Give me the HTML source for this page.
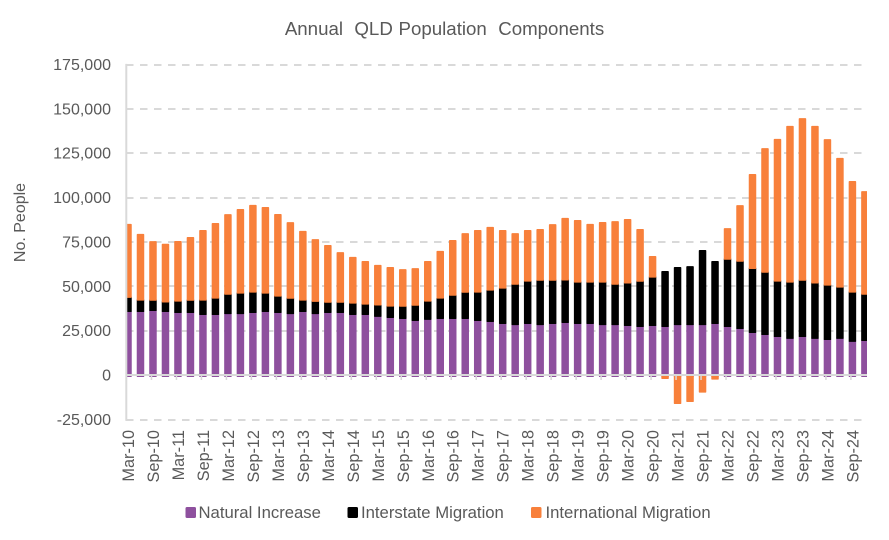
<!DOCTYPE html>
<html lang="en">
<head>
<meta charset="utf-8">
<title>Annual QLD Population Components</title>
<style>
html,body{margin:0;padding:0;background:#fff;}
svg{display:block;}
text{font-family:"Liberation Sans",Arial,sans-serif;fill:#595959;}
</style>
</head>
<body>
<svg id="chart" xmlns="http://www.w3.org/2000/svg" width="889" height="540" viewBox="0 0 889 540">
  <defs>
    <clipPath id="plot-clip"><rect x="127" y="50" width="740" height="390"></rect></clipPath>
  </defs>
  <text x="444.5" y="35" text-anchor="middle" font-size="18.7" word-spacing="0.5">Annual&#160; QLD Population&#160; Components</text>
  <text transform="translate(25,222.5) rotate(-90)" text-anchor="middle" font-size="16">No. People</text>
  <g id="grid"></g>
  <g id="bars" clip-path="url(#plot-clip)"></g>
  <g id="axes"></g>
  <g>
    <g>
      <rect x="185.5" y="507" width="10.5" height="11" rx="1.5" fill="#8E509E"></rect>
      <text x="198.5" y="518" font-size="16.7">Natural Increase</text>
    </g>
    <g>
      <rect x="347.5" y="507" width="10.5" height="11" rx="1.5" fill="#000000"></rect>
      <text x="361" y="518" font-size="16.7">Interstate Migration</text>
    </g>
    <g>
      <rect x="531" y="507" width="10.5" height="11" rx="1.5" fill="#F8803B"></rect>
      <text x="545.5" y="518" font-size="16.7">International Migration</text>
    </g>
  </g>
</svg>
<script>
const categories = [
  "Mar-10","Jun-10","Sep-10","Dec-10","Mar-11","Jun-11","Sep-11","Dec-11","Mar-12","Jun-12",
  "Sep-12","Dec-12","Mar-13","Jun-13","Sep-13","Dec-13","Mar-14","Jun-14","Sep-14","Dec-14",
  "Mar-15","Jun-15","Sep-15","Dec-15","Mar-16","Jun-16","Sep-16","Dec-16","Mar-17","Jun-17",
  "Sep-17","Dec-17","Mar-18","Jun-18","Sep-18","Dec-18","Mar-19","Jun-19","Sep-19","Dec-19",
  "Mar-20","Jun-20","Sep-20","Dec-20","Mar-21","Jun-21","Sep-21","Dec-21","Mar-22","Jun-22",
  "Sep-22","Dec-22","Mar-23","Jun-23","Sep-23","Dec-23","Mar-24","Jun-24","Sep-24","Dec-24"
];
const naturalIncrease = [
  35950,35950,36450,35950,35350,35350,34250,34250,34750,34750,
  35350,35950,35350,34750,35950,34750,35350,35350,34250,34250,
  33150,32550,31950,30850,31450,31950,31950,31950,30850,30250,
  29150,28550,29150,28550,29150,29750,29150,29150,28550,28550,
  28050,27450,28050,27450,28550,28550,28550,29150,27450,26350,
  24050,22950,21850,20750,21850,20750,20150,20750,19050,19550
];
const interstateMigration = [
  7900,6400,5800,5300,6400,6900,8100,9200,10900,11500,
  11500,10300,9200,8600,6400,6900,5800,5800,6400,5800,
  6400,6400,6900,8600,10300,11500,13100,14800,16000,17700,
  19900,22700,23900,25000,24400,23900,23300,23300,23900,22700,
  23900,25500,27200,30750,31850,32350,41450,34650,37900,37900,
  36100,35100,31200,31700,31700,31200,30600,28900,27800,26100
];
const internationalMigration = [
  40850,36750,32750,32250,33350,35050,38950,41750,44550,46850,
  48550,47950,45750,42350,38450,34450,31650,27650,25450,23750,
  22050,21450,20350,20350,22050,26050,30550,32750,34450,35050,
  32250,28250,28250,28250,31050,34450,34450,32250,33350,35050,
  35550,28850,11350,-1800,-15900,-14800,-9500,-2200,16950,31050,
  52650,69350,79550,87450,90750,87950,81750,72250,62050,57550
];
const yTickValues = [-25000,0,25000,50000,75000,100000,125000,150000,175000];

const SVG_NS = "http://www.w3.org/2000/svg";
const barColors = { natural: "#8E509E", interstate: "#000000", international: "#F8803B" };

function yScale(v) { return 375 - v * (44.375 / 25000); }
function xScale(i) { return 128 + i * 12.49; }
function make(tag, attrs, parent) {
  const el = document.createElementNS(SVG_NS, tag);
  for (const k in attrs) el.setAttribute(k, attrs[k]);
  parent.appendChild(el);
  return el;
}
function formatTick(v) { return v.toLocaleString("en-US"); }

const gridLayer = document.getElementById("grid");
const barLayer = document.getElementById("bars");
const axisLayer = document.getElementById("axes");

// gridlines and y tick labels
yTickValues.forEach(function (v) {
  if (v !== 0) {
    const gy = Math.round(yScale(v) + 0.2);
    const line = make("line", { x1: 126, x2: 867, y1: gy, y2: gy, stroke: "#D9D9D9", "stroke-width": 2, "stroke-dasharray": "7.5 6.5" }, gridLayer);
    
    
  }
  const label = make("text", { x: 111, y: yScale(v) + 5.6, "text-anchor": "end", "font-size": 16 }, axisLayer);
  label.textContent = formatTick(v);
  
  
});

// stacked bars
function drawSegment(i, from, to, color) {
  const top = Math.min(yScale(from), yScale(to));
  const bottom = Math.max(yScale(from), yScale(to));
  return make("rect", { x: xScale(i) - 3, y: top, width: 6, height: bottom - top, fill: color, stroke: color, "stroke-width": 1.5, "stroke-linejoin": "round" }, barLayer);
}
categories.forEach(function (cat, i) {
  const n = naturalIncrease[i];
  const s = interstateMigration[i];
  const t = internationalMigration[i];
  const natural = drawSegment(i, 0, n, barColors.natural);
  natural.setAttribute("height", yScale(0) + 1.25 - yScale(n));
  
  
  const interstate = drawSegment(i, n, n + s, barColors.interstate);
  
  
  const international = t >= 0
    ? drawSegment(i, n + s, n + s + t, barColors.international)
    : drawSegment(i, 0, t, barColors.international);
  
  
});

// axes
const yAxis = make("line", { x1: 126.3, x2: 126.3, y1: yScale(175000) - 0.5, y2: yScale(-25000) + 1.5, stroke: "#D9D9D9", "stroke-width": 2 }, axisLayer);


const xAxis = make("line", { x1: 126, x2: 867, y1: 375, y2: 375, stroke: "#D9D9D9", "stroke-width": 2 }, axisLayer);



categories.forEach(function (cat, i) {
  if (i % 2 !== 0) return;
  if (i > 0) {
    const tick = make("line", { x1: xScale(i) - 1.5, x2: xScale(i) - 1.5, y1: 376, y2: 380, stroke: "#D9D9D9", "stroke-width": 1.5 }, axisLayer);
    
    
  }
  const label = make("text", { transform: "translate(" + (xScale(i) + 6) + ",430) rotate(-90)", "text-anchor": "end", "font-size": 16.3 }, axisLayer);
  label.textContent = cat;
  
  
});
</script>
</body>
</html>
